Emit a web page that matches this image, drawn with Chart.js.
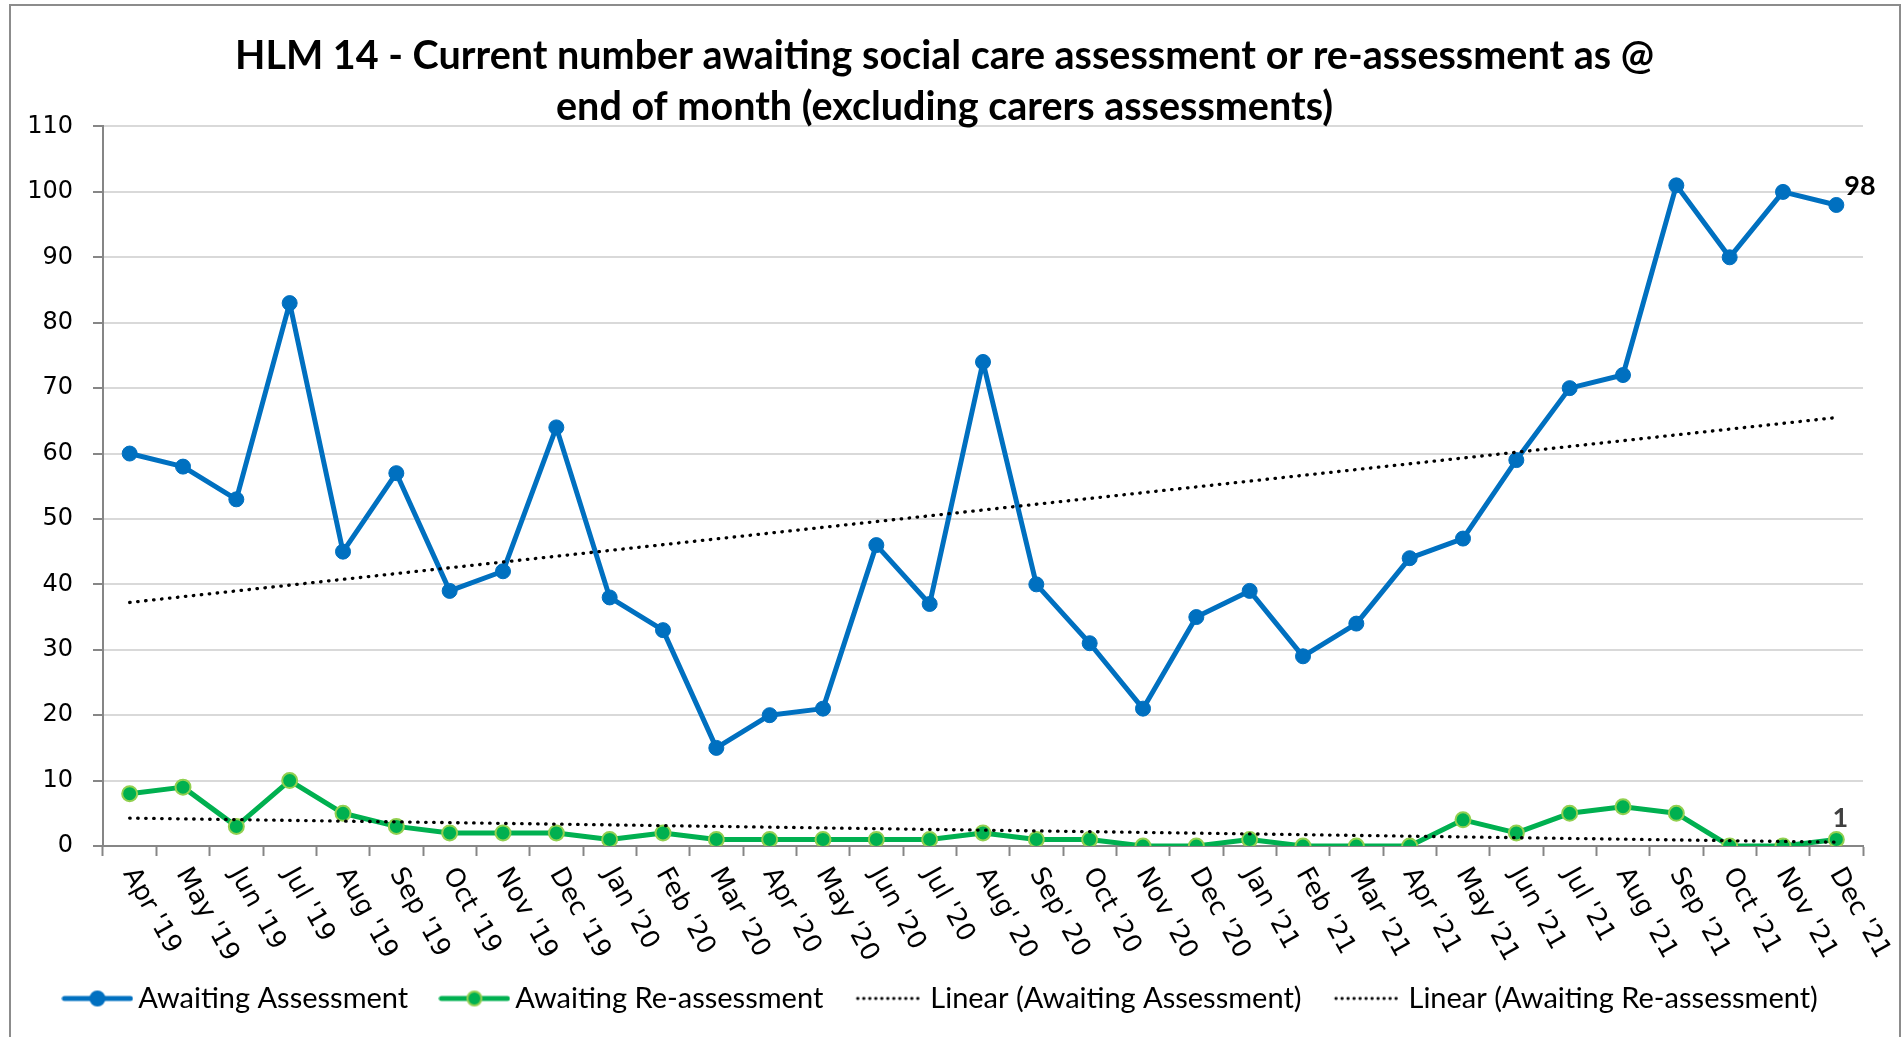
<!DOCTYPE html>
<html>
<head>
<meta charset="utf-8">
<script src="https://cdn.jsdelivr.net/npm/chart.js@4/dist/chart.umd.min.js"></script>
<style>
  html, body { margin: 0; padding: 0; background: #fff; overflow: hidden; }
  canvas { display: block; }
</style>
</head>
<body>
<canvas id="hlm" width="1903" height="1037"></canvas>
<script>
// months along the x axis
const months = ["Apr '19", "May '19", "Jun '19", "Jul '19", "Aug '19", "Sep '19", "Oct '19", "Nov '19", "Dec '19",
  "Jan '20", "Feb '20", "Mar '20", "Apr '20", "May '20", "Jun '20", "Jul '20", "Aug' 20", "Sep' 20", "Oct '20", "Nov '20", "Dec '20",
  "Jan '21", "Feb '21", "Mar '21", "Apr '21", "May '21", "Jun '21", "Jul '21", "Aug '21", "Sep '21", "Oct '21", "Nov '21", "Dec '21"];

const awaitingAssessment = [60, 58, 53, 83, 45, 57, 39, 42, 64, 38, 33, 15, 20, 21, 46, 37, 74, 40, 31, 21, 35,
  39, 29, 34, 44, 47, 59, 70, 72, 101, 90, 100, 98];

const awaitingReassessment = [8, 9, 3, 10, 5, 3, 2, 2, 2, 1, 2, 1, 1, 1, 1, 1, 2, 1, 1, 0, 0,
  1, 0, 0, 0, 4, 2, 5, 6, 5, 0, 0, 1];

const yMin = 0, yMax = 110, yStep = 10;

const titleLines = ['HLM 14 - Current number awaiting social care assessment or re-assessment as @',
  'end of month (excluding carers assessments)'];

// excel style linear trendline (least squares)
function linearFit(vals) {
  const n = vals.length;
  let sx = 0, sy = 0, sxx = 0, sxy = 0;
  vals.forEach((v, i) => { sx += i; sy += v; sxx += i * i; sxy += i * v; });
  const m = (n * sxy - sx * sy) / (n * sxx - sx * sx);
  const b = (sy - m * sx) / n;
  return vals.map((v, i) => b + m * i);
}

const BLUE = '#0070C0', GREEN = '#00B050', LGREEN = '#92D050';

// little legend symbols
function seriesSymbol(col, fill, edge) {
  const c = document.createElement('canvas');
  c.width = 72; c.height = 20;
  const g = c.getContext('2d');
  g.strokeStyle = col; g.lineWidth = 5; g.lineCap = 'round';
  g.beginPath(); g.moveTo(3, 10); g.lineTo(69, 10); g.stroke();
  g.fillStyle = fill; g.strokeStyle = edge; g.lineWidth = 2;
  g.beginPath(); g.arc(36, 10, 7, 0, Math.PI * 2); g.fill(); g.stroke();
  return c;
}
function dotSymbol() {
  const c = document.createElement('canvas');
  c.width = 72; c.height = 20;
  const g = c.getContext('2d');
  g.strokeStyle = '#000'; g.lineWidth = 2.8; g.lineCap = 'round';
  g.setLineDash([0.5, 5.5]);
  g.beginPath(); g.moveTo(4, 10); g.lineTo(70, 10); g.stroke();
  return c;
}

const frame = {
  id: 'frame',
  beforeDraw(chart) {
    const c = chart.ctx;
    c.save();
    c.fillStyle = '#fff';
    c.fillRect(0, 0, chart.width, chart.height);
    c.strokeStyle = '#8c8c8c';
    c.lineWidth = 2;
    c.strokeRect(10, 5, 1890, 1100);
    c.restore();
  }
};

// rotated month labels, reading downwards like the excel chart
const slantLabels = {
  id: 'slantLabels',
  afterDraw(chart) {
    const sx = chart.scales.x, c = chart.ctx;
    c.save();
    c.font = '26px "DejaVu Sans"';
    c.fillStyle = '#000';
    c.textAlign = 'left';
    c.textBaseline = 'middle';
    chart.data.labels.forEach((m, i) => {
      const px = sx.getPixelForTick(i);
      c.save();
      c.translate(px - 1, sx.top + 24);
      c.rotate(61 * Math.PI / 180);
      c.fillText(m, 0, 0);
      c.restore();
    });
    c.restore();
  }
};

// value labels on the last point of each series
const endLabels = {
  id: 'endLabels',
  afterDatasetsDraw(chart) {
    const c = chart.ctx;
    const n = months.length - 1;
    const p0 = chart.getDatasetMeta(0).data[n];
    const p1 = chart.getDatasetMeta(1).data[n];
    c.save();
    c.font = 'bold 27px Lato';
    c.textBaseline = 'middle';
    c.fillStyle = '#000';
    c.textAlign = 'left';
    c.fillText(String(awaitingAssessment[n]), p0.x + 8, p0.y - 19);
    c.fillStyle = '#404040';
    c.textAlign = 'center';
    c.fillText(String(awaitingReassessment[n]), p1.x + 4, p1.y - 21);
    c.restore();
  }
};

const legendItems = [
  { text: 'Awaiting Assessment', pointStyle: seriesSymbol(BLUE, BLUE, BLUE), datasetIndex: 0 },
  { text: 'Awaiting Re-assessment', pointStyle: seriesSymbol(GREEN, GREEN, LGREEN), datasetIndex: 1 },
  { text: 'Linear (Awaiting Assessment)', pointStyle: dotSymbol(), datasetIndex: 2 },
  { text: 'Linear (Awaiting Re-assessment)', pointStyle: dotSymbol(), datasetIndex: 3 }
];

new Chart(document.getElementById('hlm'), {
  type: 'line',
  data: {
    labels: months,
    datasets: [
      {
        label: 'Awaiting Assessment', data: awaitingAssessment, order: 2,
        borderColor: BLUE, backgroundColor: BLUE, borderWidth: 5, tension: 0, borderJoinStyle: 'round',
        pointRadius: 7.5, pointBackgroundColor: BLUE, pointBorderColor: BLUE, pointBorderWidth: 1
      },
      {
        label: 'Awaiting Re-assessment', data: awaitingReassessment, order: 3,
        borderColor: GREEN, backgroundColor: GREEN, borderWidth: 5, tension: 0, borderJoinStyle: 'round',
        pointRadius: 7.5, pointBackgroundColor: GREEN, pointBorderColor: LGREEN, pointBorderWidth: 2
      },
      {
        label: 'Linear (Awaiting Assessment)', data: linearFit(awaitingAssessment), order: 0,
        borderColor: '#000', borderWidth: 3.3, borderDash: [0.5, 7.5], borderCapStyle: 'round',
        pointRadius: 0, fill: false
      },
      {
        label: 'Linear (Awaiting Re-assessment)', data: linearFit(awaitingReassessment), order: 1,
        borderColor: '#000', borderWidth: 3.3, borderDash: [0.5, 7.5], borderCapStyle: 'round',
        pointRadius: 0, fill: false
      }
    ]
  },
  options: {
    responsive: false,
    animation: false,
    events: [],
    layout: { padding: { left: 26, right: 40, top: 6, bottom: 14 } },
    plugins: {
      tooltip: { enabled: false },
      title: {
        display: true,
        text: titleLines,
        color: '#000',
        font: { family: 'Lato', weight: 'bold', size: 39.5, lineHeight: 1.31 },
        padding: { top: 24, bottom: -7 }
      },
      legend: {
        position: 'bottom',
        labels: {
          usePointStyle: true,
          pointStyleWidth: 52.5,
          padding: 40,
          color: '#000',
          font: { family: 'Lato', size: 29 },
          generateLabels: () => legendItems.map(it => ({
            text: it.text, pointStyle: it.pointStyle, datasetIndex: it.datasetIndex,
            fillStyle: 'rgba(0,0,0,0)', strokeStyle: 'rgba(0,0,0,0)', lineWidth: 0, hidden: false
          }))
        }
      }
    },
    scales: {
      x: {
        type: 'category',
        offset: true,
        grid: { offset: true, drawOnChartArea: false, drawTicks: true, tickLength: 10, tickColor: '#868686', tickWidth: 2 },
        border: { color: '#868686', width: 2 },
        ticks: { display: false },
        afterFit(s) { s.height = 98; }
      },
      y: {
        min: yMin, max: yMax,
        ticks: { stepSize: yStep, color: '#000', padding: 20, font: { family: 'DejaVu Sans', size: 24 } },
        grid: { color: '#d9d9d9', lineWidth: 2, tickLength: 10, tickColor: '#868686', tickWidth: 2 },
        border: { color: '#868686', width: 2 },
        afterFit(s) { s.width = 77; }
      }
    }
  },
  plugins: [frame, slantLabels, endLabels]
});
</script>
</body>
</html>
